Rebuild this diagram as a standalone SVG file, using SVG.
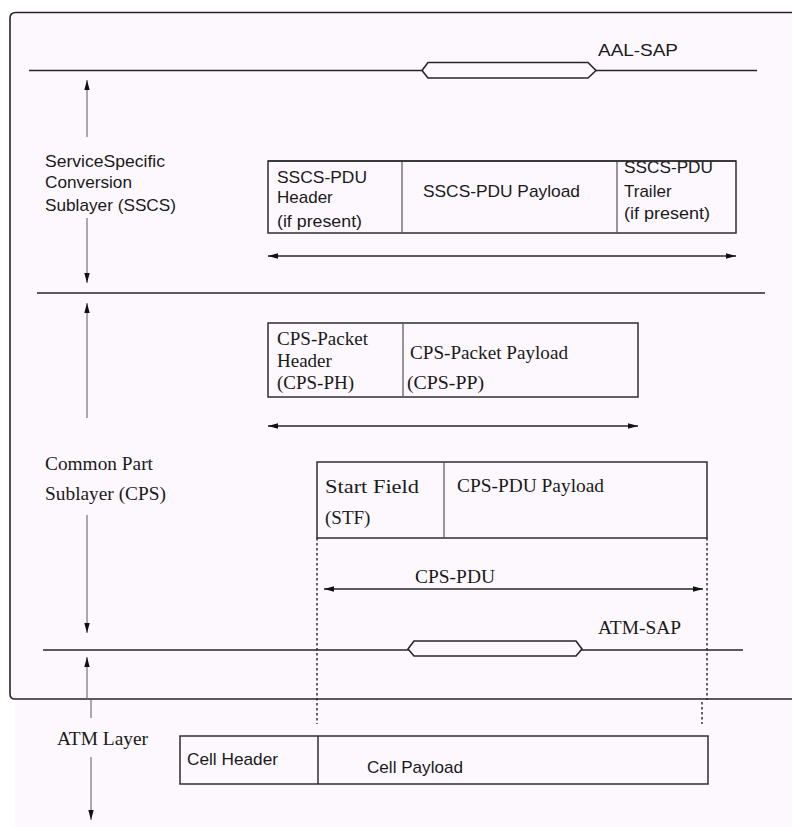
<svg xmlns="http://www.w3.org/2000/svg" width="792" height="827" viewBox="0 0 792 827">
<defs>
<style>
.bg{fill:#fdf8fd}
.ln{stroke:#262626;stroke-width:1.6;fill:none}
.box{stroke:#2e2e2e;stroke-width:1.5;fill:#fdf8fd}
.div{stroke:#555;stroke-width:1.2}
.vl{stroke:#666;stroke-width:1.1;fill:none}
.dot{stroke:#222;stroke-width:1.4;stroke-dasharray:2.5,2.5;fill:none}
.hex{stroke:#262626;stroke-width:1.6;fill:#fdf8fd}
.s{font-family:"Liberation Sans",Arial,sans-serif;font-size:17px;fill:#1a1a1a}
.r{font-family:"Liberation Serif","Times New Roman",serif;font-size:19px;fill:#1a1a1a}
</style>
<marker id="ah" viewBox="0 0 10 6" refX="10" refY="3" markerWidth="10" markerHeight="6" markerUnits="userSpaceOnUse" orient="auto-start-reverse">
<path d="M0,0.3 L10,3 L0,5.7 z" fill="#111"/>
</marker>
</defs>
<rect width="792" height="827" fill="#ffffff"/>
<rect x="15" y="699" width="777" height="128" class="bg"/>
<path d="M792,12.5 H16 Q10,12.5 10,18 V694 Q10,699 15,699 H792 Z" class="bg"/>
<path d="M792,12.5 H16 Q10,12.5 10,18 V694 Q10,699 15,699 H792" class="ln" stroke-width="1.8"/>

<g id="aal-sap">
<line x1="29" y1="70.5" x2="757" y2="70.5" class="ln"/>
<polygon points="422,70.5 428,62.5 588,62.5 596,70.5 588,78 428,78" class="hex"/>
<text x="598" y="56" class="s" font-size="18.5" textLength="80" lengthAdjust="spacingAndGlyphs">AAL-SAP</text>
</g>

<g id="sscs-label">
<text x="45" y="167" class="s" font-size="16.5" textLength="120" lengthAdjust="spacingAndGlyphs">ServiceSpecific</text>
<text x="45" y="188" class="s" font-size="16.5" textLength="87" lengthAdjust="spacingAndGlyphs">Conversion</text>
<text x="45" y="211" class="s" font-size="16.5" textLength="131" lengthAdjust="spacingAndGlyphs">Sublayer (SSCS)</text>
</g>

<g id="sscs-divider">
<line x1="37" y1="293" x2="765" y2="293" class="ln"/>
</g>

<g id="sscs-pdu">
<rect x="268" y="161" width="468" height="72" class="box"/>
<line x1="402" y1="161" x2="402" y2="233" class="div"/>
<line x1="617" y1="161" x2="617" y2="233" class="div"/>
<text x="277" y="183" class="s" textLength="90" lengthAdjust="spacingAndGlyphs">SSCS-PDU</text>
<text x="277" y="203" class="s">Header</text>
<text x="277" y="227" class="s" textLength="85" lengthAdjust="spacingAndGlyphs">(if present)</text>
<text x="423" y="197" class="s" textLength="157" lengthAdjust="spacingAndGlyphs">SSCS-PDU Payload</text>
<text x="624" y="173" class="s" textLength="89" lengthAdjust="spacingAndGlyphs">SSCS-PDU</text>
<text x="624" y="197" class="s">Trailer</text>
<text x="624" y="219" class="s" textLength="86" lengthAdjust="spacingAndGlyphs">(if present)</text>
<line x1="268" y1="161" x2="736" y2="161" stroke="#2e2e2e" stroke-width="1.5"/>
</g>

<g id="cps-packet">
<rect x="268" y="323" width="370" height="74" class="box"/>
<line x1="403" y1="323" x2="403" y2="397" class="div"/>
<text x="277" y="345" class="r" font-size="18" textLength="91" lengthAdjust="spacingAndGlyphs">CPS-Packet</text>
<text x="277" y="367" class="r" font-size="18">Header</text>
<text x="277" y="389" class="r" font-size="18" textLength="77" lengthAdjust="spacingAndGlyphs">(CPS-PH)</text>
<text x="410" y="359" class="r" textLength="158" lengthAdjust="spacingAndGlyphs">CPS-Packet Payload</text>
<text x="407" y="389" class="r" textLength="77" lengthAdjust="spacingAndGlyphs">(CPS-PP)</text>
</g>

<g id="cps-label">
<text x="45" y="470" class="r" textLength="108" lengthAdjust="spacingAndGlyphs">Common Part</text>
<text x="45" y="500" class="r" textLength="121" lengthAdjust="spacingAndGlyphs">Sublayer (CPS)</text>
</g>

<g id="cps-pdu">
<rect x="317" y="462" width="390" height="76" class="box"/>
<line x1="444" y1="462" x2="444" y2="538" class="div"/>
<text x="325" y="493" class="r" textLength="94" lengthAdjust="spacingAndGlyphs">Start Field</text>
<text x="325" y="524" class="r">(STF)</text>
<text x="457" y="492" class="r" textLength="147" lengthAdjust="spacingAndGlyphs">CPS-PDU Payload</text>
<text x="415" y="583" class="r" textLength="80" lengthAdjust="spacingAndGlyphs">CPS-PDU</text>
</g>

<g id="atm-sap">
<line x1="43" y1="650" x2="743" y2="650" class="ln"/>
<polygon points="408,649 414,641 576,641 582,649 576,656 414,656" class="hex"/>
<text x="598" y="634" class="r" textLength="83" lengthAdjust="spacingAndGlyphs">ATM-SAP</text>
</g>

<g id="atm-layer">
<text x="57" y="745" class="r" font-size="22" textLength="91" lengthAdjust="spacingAndGlyphs">ATM Layer</text>
</g>

<g id="cell">
<rect x="180" y="736" width="528" height="48" class="box"/>
<line x1="318" y1="736" x2="318" y2="784" stroke="#2e2e2e" stroke-width="1.5"/>
<text x="187" y="765" class="s" font-size="21" textLength="91" lengthAdjust="spacingAndGlyphs">Cell Header</text>
<text x="367" y="773" class="s" font-size="18" textLength="96" lengthAdjust="spacingAndGlyphs">Cell Payload</text>
</g>

<g id="connectors">
<line x1="87" y1="137" x2="87" y2="80" class="vl" marker-end="url(#ah)"/>
<line x1="87" y1="218" x2="87" y2="283" class="vl" marker-end="url(#ah)"/>
<line x1="87" y1="418" x2="87" y2="303" class="vl" marker-end="url(#ah)"/>
<line x1="87" y1="515" x2="87" y2="633" class="vl" marker-end="url(#ah)"/>
<line x1="87" y1="700" x2="87" y2="657" class="vl" marker-end="url(#ah)"/>
<line x1="91" y1="700" x2="91" y2="718" class="vl"/>
<line x1="91" y1="757" x2="91" y2="820" class="vl" marker-end="url(#ah)"/>
<line x1="268" y1="256" x2="736" y2="256" class="ln" stroke-width="1.4" marker-start="url(#ah)" marker-end="url(#ah)"/>
<line x1="268" y1="426" x2="638" y2="426" class="ln" stroke-width="1.4" marker-start="url(#ah)" marker-end="url(#ah)"/>
<line x1="324" y1="589" x2="703" y2="589" class="ln" stroke-width="1.4" marker-start="url(#ah)" marker-end="url(#ah)"/>
<line x1="317" y1="538" x2="317" y2="724" class="dot"/>
<line x1="707" y1="538" x2="707" y2="700" class="dot"/>
<line x1="702" y1="702" x2="702" y2="724" class="dot"/>
</g>
</svg>
